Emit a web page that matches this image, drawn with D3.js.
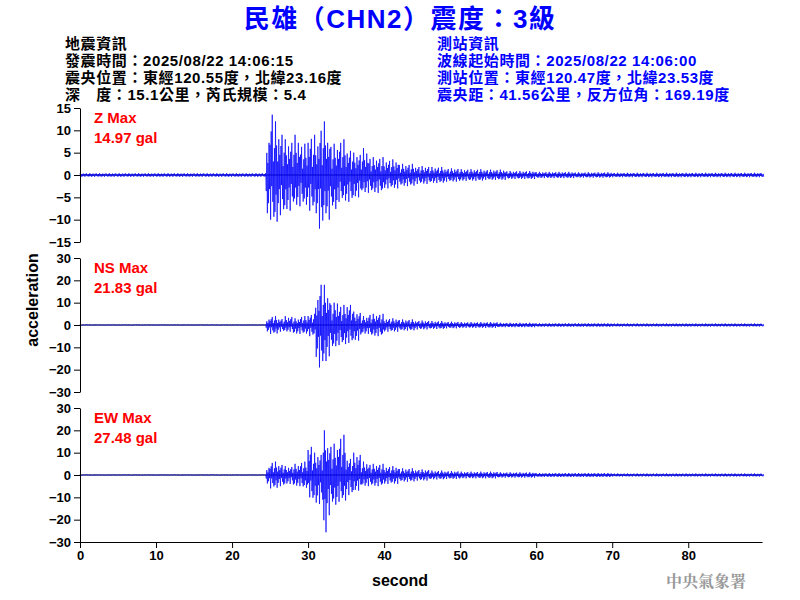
<!DOCTYPE html>
<html><head><meta charset="utf-8">
<script src="https://cdn.jsdelivr.net/npm/d3@7"></script>
<style>body{margin:0;background:#fff}</style>
</head><body>
<svg id="chart" width="800" height="600"></svg>
<script>
// 見出し
const title = "民雄（CHN2）震度：3級";
const quakeInfo = ["地震資訊", "發震時間：2025/08/22 14:06:15", "震央位置：東經120.55度，北緯23.16度", "深　度：15.1公里，芮氏規模：5.4"];
const stationInfo = ["測站資訊", "波線起始時間：2025/08/22 14:06:00", "測站位置：東經120.47度，北緯23.53度", "震央距：41.56公里，反方位角：169.19度"];

// 成分ごとの情報
const components = ["Z", "NS", "EW"];
const maxLabels = ["14.97 gal", "21.83 gal", "27.48 gal"];
const yLimits = [15, 30, 30];
const yTicks = [[-15, -10, -5, 0, 5, 10, 15], [-30, -20, -10, 0, 10, 20, 30], [-30, -20, -10, 0, 10, 20, 30]];
const xTicks = [0, 10, 20, 30, 40, 50, 60, 70, 80];

// 包絡線 ( 0.5 秒ごと、上側 / 下側 ) 画像から読み取り
const envTimes = d3.range(0, 90, 0.5);
function env(pairs) { // [time, value] の折れ点から 0.5 秒ごとの表を作る
  return envTimes.map(t => {
    let v = pairs[0][1];
    for (let i = 0; i < pairs.length; i++) if (t >= pairs[i][0]) v = pairs[i][1];
    return v;
  });
}
const zUp = env([[0,0.4],[24.5,9],[25,15],[25.5,12],[26,10],[27,8],[28,9],[29,7],[30,9],[31,8],[31.5,11],[32,12],[32.5,9],[33,7],[34,8],[35,6],[36,5],[37,6],[38,4],[40,3.5],[42,2.5],[44,2],[46,1.8],[48,1.5],[50,1.3],[53,1.2],[56,0.9],[60,0.7],[65,0.6],[70,0.5]]);
const zDn = env([[0,0.4],[24.5,9],[25,10],[25.5,11],[26,9],[27,8],[28,7],[29,7],[30,8],[31,9],[31.5,12],[32,9],[32.5,10],[33,8],[34,6],[35,6],[36,5],[37,4],[38,4],[40,3],[42,2.5],[44,2],[46,1.8],[48,1.5],[50,1.3],[53,1.1],[56,0.9],[60,0.7],[65,0.6],[70,0.5]]);
const nsUp = env([[0,0.2],[24.5,3],[25,4],[26,3],[27,4],[28,3],[29,4],[30,5],[31,14],[31.5,20],[32,18],[32.5,15],[33,10],[33.5,12],[34,9],[35,10],[36,6],[37,4],[38,5],[40,3],[42,2.5],[44,2],[46,1.8],[48,1.5],[50,1.3],[55,1],[60,0.8],[70,0.7]]);
const nsDn = env([[0,0.2],[24.5,3],[25,4],[26,3],[27,3],[28,4],[29,4],[30,5],[31,15],[31.5,19],[32,17],[32.5,14],[33,11],[33.5,10],[34,9],[35,8],[36,7],[37,4],[38,5],[40,3],[42,2.5],[44,2],[46,1.8],[48,1.5],[50,1.3],[55,1],[60,0.8],[70,0.7]]);
const ewUp = env([[0,0.2],[24.5,4],[25,6],[26,5],[27,4],[28,5],[29,6],[30,14],[30.5,10],[31,10],[32,20],[32.5,15],[33,14],[34,18],[35,8],[36,10],[37,6],[38,5],[40,4],[42,3],[44,2.5],[46,2],[48,1.8],[50,1.5],[55,1.2],[60,0.9],[70,0.7]]);
const ewDn = env([[0,0.2],[24.5,4],[25,6],[26,5],[27,4],[28,5],[29,6],[30,10],[30.5,12],[31,13],[32,27],[32.5,18],[33,14],[34,12],[35,9],[36,7],[37,5],[38,5],[40,4],[42,3],[44,2.5],[46,2],[48,1.8],[50,1.5],[55,1.2],[60,0.9],[70,0.7]]);
const envUp = [zUp, nsUp, ewUp];
const envDn = [zDn, nsDn, ewDn];

// 波形の模様 ( 振幅の比率 ) 上下で均等になるよう並べる
const texture = [1, 0.4, 0.55, 0.95, 0.3, 0.7, 0.8, 0.35, 0.45, 1, 0.65, 0.25, 0.9, 0.6, 0.2, 0.85, 0.5, 0.75];

const svg = d3.select("#chart");
const margin = {left: 80, right: 762};
const x = d3.scaleLinear().domain([0, 89.7]).range([margin.left, margin.right]);
const panelTops = [108, 258, 408];
const panelH = 134;

// タイトル
svg.append("text").attr("x", 400).attr("y", 28).attr("text-anchor", "middle")
  .attr("font-family", "'Liberation Sans', 'Noto Sans CJK TC'").attr("font-weight", "bold").attr("font-size", 26)
  .attr("letter-spacing", 1.5).attr("fill", "#0000ff").text(title);

const cjk = "'Liberation Sans', 'Noto Sans CJK TC'";
quakeInfo.forEach((s, i) => svg.append("text").attr("x", 65).attr("y", 49 + i * 17)
  .attr("font-family", cjk).attr("font-weight", "bold").attr("font-size", 15).attr("letter-spacing", 0.6).text(s));
stationInfo.forEach((s, i) => svg.append("text").attr("x", 437).attr("y", 49 + i * 17)
  .attr("font-family", cjk).attr("font-weight", "bold").attr("font-size", 15).attr("letter-spacing", 0.6)
  .attr("fill", "#0000ff").text(s));

// 各成分を描画
components.forEach((c, k) => {
  const y = d3.scaleLinear().domain([-yLimits[k], yLimits[k]]).range([panelTops[k] + panelH, panelTops[k]]);
  const g = svg.append("g");

  // ゼロ線
  g.append("line").attr("x1", x(0)).attr("x2", x(89.7)).attr("y1", y(0)).attr("y2", y(0))
    .attr("stroke", "#000").attr("stroke-width", 1);

  // 波形
  const pts = [];
  let n = 0;
  envTimes.forEach((t, i) => {
    for (let j = 0; j < 7; j++) {
      const w = texture[n % texture.length];
      const a = (n % 2 === 0) ? envUp[k][i] * w : -envDn[k][i] * w;
      pts.push([t + j / 14, a]);
      n++;
    }
  });
  g.append("path").datum(pts)
    .attr("d", d3.line().x(d => x(d[0])).y(d => y(d[1])))
    .attr("fill", "none").attr("stroke", "#0000ff").attr("stroke-width", 0.7);

  // y 軸
  const ax = g.append("g").attr("transform", `translate(${margin.left},0)`)
    .call(d3.axisLeft(y).tickValues(yTicks[k]).tickSizeOuter(0));
  ax.selectAll("text").attr("font-family", "Liberation Sans").attr("font-weight", "bold").attr("font-size", 13);

  // 最大値ラベル
  g.append("text").attr("x", 94).attr("y", panelTops[k] + 15).attr("fill", "#ff0000")
    .attr("font-family", "Liberation Sans").attr("font-weight", "bold").attr("font-size", 15).text(c + " Max");
  g.append("text").attr("x", 94).attr("y", panelTops[k] + 35).attr("fill", "#ff0000")
    .attr("font-family", "Liberation Sans").attr("font-weight", "bold").attr("font-size", 15).text(maxLabels[k]);

  if (k === 2) {
    const bx = g.append("g").attr("transform", `translate(0,${panelTops[k] + panelH})`)
      .call(d3.axisBottom(x).tickValues(xTicks).tickSizeOuter(0));
    bx.selectAll("text").attr("font-family", "Liberation Sans").attr("font-weight", "bold").attr("font-size", 13);
  }
});

// 軸ラベル
svg.append("text").attr("x", 400).attr("y", 586).attr("text-anchor", "middle")
  .attr("font-family", "Liberation Sans").attr("font-weight", "bold").attr("font-size", 16).text("second");
svg.append("text").attr("transform", "translate(38,300) rotate(-90)").attr("text-anchor", "middle")
  .attr("font-family", "Liberation Sans").attr("font-weight", "bold").attr("font-size", 16).text("acceleration");
svg.append("text").attr("x", 746).attr("y", 587).attr("text-anchor", "end")
  .attr("font-family", "Noto Serif CJK TC, Noto Sans CJK TC").attr("font-weight", "bold").attr("font-size", 16)
  .attr("fill", "#999").text("中央氣象署");
</script>
</body></html>
